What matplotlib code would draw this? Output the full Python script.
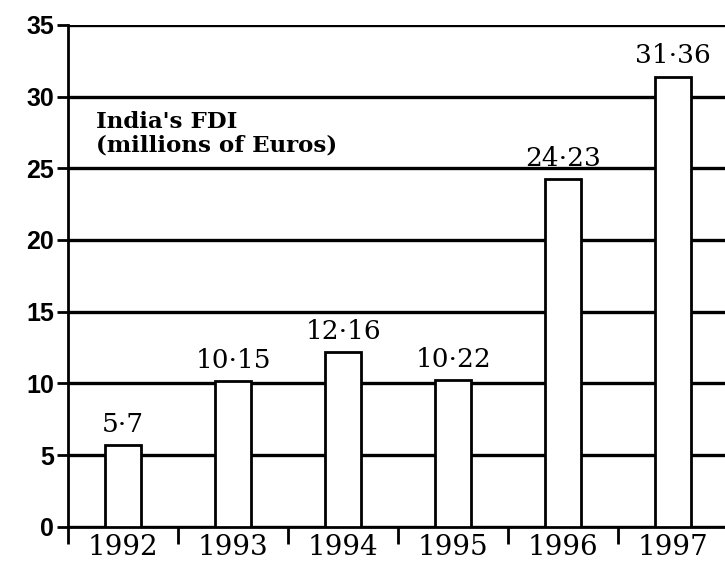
import numpy as np
import matplotlib.pyplot as plt

years = ['1992', '1993', '1994', '1995', '1996', '1997']
fdi = [5.7, 10.15, 12.16, 10.22, 24.23, 31.36]
fdi_labels = ['5·7', '10·15', '12·16', '10·22', '24·23', '31·36']
y_ticks = [0, 5, 10, 15, 20, 25, 30, 35]

fig = plt.figure(figsize=(7.25, 5.63), dpi=100)
ax = fig.add_axes([0.094, 0.064, 0.906, 0.892])

x = np.arange(len(years))

# horizontal rules behind the bars
for v in y_ticks:
    ax.axhline(v, color='black', lw=2.4, zorder=1)

ax.bar(x, fdi, width=0.33, color='white', edgecolor='black', lw=2.0, zorder=3)

for xi, v, lab in zip(x, fdi, fdi_labels):
    ax.text(xi, v + 0.6, lab, ha='center', va='bottom', fontsize=19,
            family='DejaVu Serif', zorder=4)

ax.text(-0.25, 29.0, "India's FDI\n(millions of Euros)", ha='left', va='top',
        fontsize=16.5, family='DejaVu Serif', fontweight='bold',
        linespacing=1.1, zorder=4)

ax.set_xlim(-0.5, 5.47)
ax.set_ylim(0, 35)

ax.set_yticks(y_ticks)
ax.set_yticklabels([str(t) for t in y_ticks], fontsize=18, family='Liberation Sans',
                   fontweight='bold')
ax.tick_params(axis='y', length=8, width=2, pad=2)

ax.set_xticks(x)
ax.set_xticklabels(years, fontsize=20, family='DejaVu Serif')
ax.tick_params(axis='x', which='major', length=0, pad=5)
ax.set_xticks(np.arange(-0.5, 5.5, 1.0), minor=True)
ax.tick_params(axis='x', which='minor', length=12, width=2, direction='out')

for s in ['top', 'right']:
    ax.spines[s].set_visible(False)
ax.spines['left'].set_linewidth(2)
ax.spines['bottom'].set_linewidth(2)
ax.spines['left'].set_zorder(2)

fig.savefig('out.png', dpi=100)
